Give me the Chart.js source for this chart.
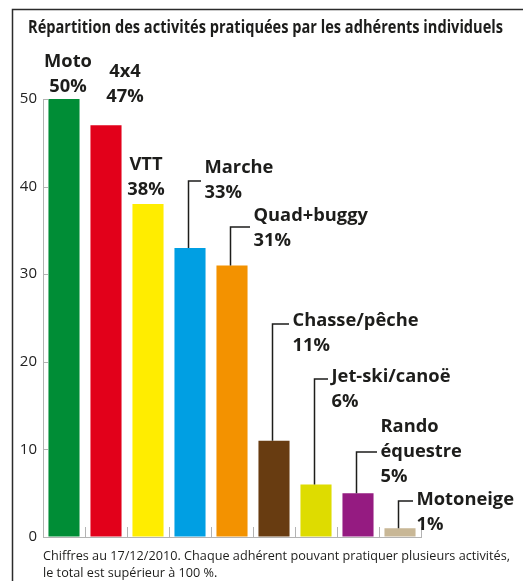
<!DOCTYPE html>
<html lang="fr">
<head>
<meta charset="UTF-8">
<title>Répartition des activités</title>
<script src="https://cdn.jsdelivr.net/npm/chart.js"></script>
<style>
  html, body { margin: 0; padding: 0; background: #fff; }
  #graphique { display: block; }
</style>
</head>
<body>
<canvas id="graphique" width="523" height="581"></canvas>
<script>
// Données du graphique
const titre = 'Répartition des activités pratiquées par les adhérents individuels';
const activites = ['Moto', '4x4', 'VTT', 'Marche', 'Quad+buggy', 'Chasse/pêche', 'Jet-ski/canoë', 'Rando équestre', 'Motoneige'];
const pourcentages = [50, 47, 38, 33, 31, 11, 6, 5, 1];
const graduations = [0, 10, 20, 30, 40, 50];
const note = [
    'Chiffres au 17/12/2010. Chaque adhérent pouvant pratiquer plusieurs activités,',
    'le total est supérieur à 100 %.'
];

// Style
const couleurs = ['#008d36', '#e2001a', '#ffed00', '#009fe3', '#f39200', '#683c11', '#dedc00', '#951b81', '#c8b796'];
// position des étiquettes (ligne de base de la 1re ligne, en unités de l'axe)
const etiquetteY = [53.65, 52.5, 41.9, 41.55, 36.07, 24.1, 17.7, 12.0, 3.65];
// décalage horizontal par rapport au centre de la barre
const etiquetteDx = [4, 19, -2, 14.5, 21.5, 18.5, 15.5, 22.5, 16.5];
// hauteur du trait de rappel par rapport à la 1re ligne (null = pas de trait)
const traitDy = [null, null, null, 8, 6, -2, -3, 20, -4];
const interligne = 25;
const police = '"Open Sans", sans-serif';
const encre = '#1d1d1b';

function texteAjuste(ctx, txt, x, y, sx, align) {
    ctx.save();
    ctx.translate(x, y);
    ctx.scale(sx, 1);
    ctx.textAlign = align;
    ctx.fillText(txt, 0, 0);
    ctx.restore();
}

const decor = {
    id: 'decor',
    afterDraw(chart) {
        const ctx = chart.ctx;
        const x = chart.scales.x, y = chart.scales.y;
        const area = chart.chartArea;
        ctx.save();
        ctx.textBaseline = 'alphabetic';
        ctx.fillStyle = encre;

        // cadre
        ctx.strokeStyle = '#2b2b2b';
        ctx.lineWidth = 1.5;
        ctx.beginPath();
        ctx.moveTo(12.5, chart.height);
        ctx.lineTo(12.5, 9.5);
        ctx.lineTo(chart.width, 9.5);
        ctx.stroke();

        // titre
        ctx.font = 'bold 17px ' + police;
        let sx = 475 / ctx.measureText(titre).width;
        texteAjuste(ctx, titre, 28, 33, sx, 'left');

        // note
        ctx.font = '12.5px ' + police;
        sx = 467 / ctx.measureText(note[0]).width;
        note.forEach((l, i) => texteAjuste(ctx, l, 43, 560 + i * 17, sx, 'left'));

        // petites graduations intérieures
        ctx.strokeStyle = '#b3b3b3';
        ctx.lineWidth = 1;
        ctx.beginPath();
        graduations.forEach(v => {
            const py = Math.round(y.getPixelForValue(v)) + 0.5;
            ctx.moveTo(area.left, py);
            ctx.lineTo(area.left + 5, py);
        });
        const pas = (area.right - area.left) / activites.length;
        for (let i = 1; i <= activites.length; i++) {
            const px = Math.round(area.left + i * pas) + 0.5;
            ctx.moveTo(px, area.bottom);
            ctx.lineTo(px, area.bottom - 10);
        }
        ctx.stroke();

        // étiquettes
        ctx.font = 'bold 18px ' + police;
        const sl = 126 / ctx.measureText('Chasse/pêche').width;
        const barres = chart.getDatasetMeta(0).data;
        activites.forEach((nom, i) => {
            const lignes = nom.split(' ').concat([pourcentages[i] + '%']);
            const b = barres[i];
            const base = y.getPixelForValue(etiquetteY[i]);
            if (traitDy[i] === null) {
                lignes.forEach((l, k) => texteAjuste(ctx, l, b.x + etiquetteDx[i], base + k * interligne, sl, 'center'));
            } else {
                const tx = b.x + etiquetteDx[i];
                const vx = b.x - 1.5;
                const ty = base + traitDy[i];
                ctx.strokeStyle = '#1d1d1b';
                ctx.lineWidth = 1.5;
                ctx.beginPath();
                ctx.moveTo(vx, b.y);
                ctx.lineTo(vx, ty);
                ctx.lineTo(tx - 3.5, ty);
                ctx.stroke();
                lignes.forEach((l, k) => texteAjuste(ctx, l, tx, base + k * interligne, sl, 'left'));
            }
        });
        ctx.restore();
    }
};

new Chart(document.getElementById('graphique'), {
    type: 'bar',
    data: {
        labels: activites,
        datasets: [{
            data: pourcentages,
            backgroundColor: couleurs,
            borderWidth: 0,
            categoryPercentage: 1,
            barPercentage: 0.74
        }]
    },
    options: {
        responsive: false,
        animation: false,
        layout: { padding: { left: 0, top: 99, right: 102, bottom: 44 } },
        plugins: { legend: { display: false }, tooltip: { enabled: false } },
        scales: {
            x: {
                grid: { drawOnChartArea: false, drawTicks: false },
                border: { color: '#b3b3b3' },
                ticks: { display: false },
                afterFit(s) { s.height = 0; }
            },
            y: {
                min: 0,
                max: 50,
                afterBuildTicks(s) { s.ticks = graduations.map(v => ({ value: v })); },
                ticks: { padding: 6, color: '#222', font: { family: 'Open Sans', size: 15 } },
                grid: { drawOnChartArea: false, drawTicks: false },
                border: { color: '#b3b3b3' },
                afterFit(s) { s.width = 43; }
            }
        }
    },
    plugins: [decor]
});
</script>
</body>
</html>
